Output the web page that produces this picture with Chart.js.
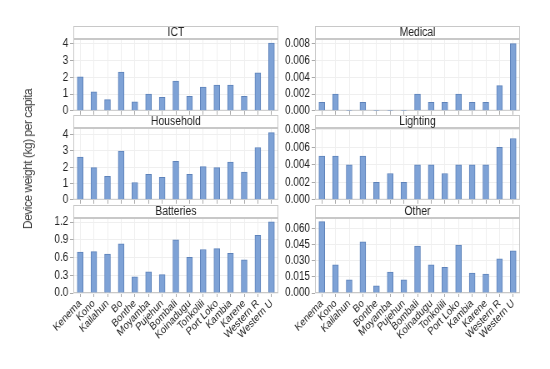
<!DOCTYPE html>
<html>
<head>
<meta charset="utf-8">
<script src="https://cdn.jsdelivr.net/npm/chart.js@4"></script>
<style>
  body { margin: 0; background: #fff; overflow: hidden; }
  #page { position: relative; width: 550px; height: 369px; overflow: hidden; }
  /* the figure is drawn 20% wider and squeezed back, which gives the narrow lettering of the original */
  #wrap { position: absolute; left: 0; top: 0; width: 660px; height: 369px; transform: scaleX(0.833333); transform-origin: 0 0; }
  .panel { position: absolute; }
  #ytitle {
    position: absolute; left: 28px; top: 159px; white-space: nowrap;
    transform: translate(-50%, -50%) rotate(-90deg);
    font: normal 12px 'Liberation Sans', Arial, sans-serif;
    letter-spacing: -0.5px;
    color: #444;
  }
</style>
</head>
<body>
<div id="page">
  <div id="wrap"></div>
  <div id="ytitle">Device weight (kg) per capita</div>
</div>
<script>
// ---- data ----
const districts = ['Kenema', 'Kono', 'Kailahun', 'Bo', 'Bonthe', 'Moyamba', 'Pujehun', 'Bombali',
  'Koinadugu', 'Tonkolili', 'Port Loko', 'Kambia', 'Karene', 'Western R', 'Western U'];

const ict       = [2.03, 1.13, 0.67, 2.31, 0.54, 0.99, 0.80, 1.77, 0.87, 1.41, 1.53, 1.53, 0.86, 2.27, 4.04];
const medical   = [0.001, 0.002, 0.00005, 0.001, 0.00005, 0.00005, 0.00005, 0.002, 0.001, 0.001, 0.002, 0.001, 0.001, 0.003, 0.008];
const household = [2.62, 1.98, 1.44, 3.00, 1.06, 1.56, 1.38, 2.37, 1.56, 2.04, 1.98, 2.31, 1.71, 3.21, 4.13];
const lighting  = [0.005, 0.005, 0.004, 0.005, 0.002, 0.003, 0.002, 0.004, 0.004, 0.003, 0.004, 0.004, 0.004, 0.006, 0.007];
const batteries = [0.69, 0.70, 0.656, 0.83, 0.275, 0.36, 0.31, 0.90, 0.605, 0.735, 0.75, 0.67, 0.56, 0.975, 1.205];
const other     = [0.0668, 0.0264, 0.0124, 0.048, 0.0068, 0.0196, 0.0124, 0.044, 0.0264, 0.024, 0.0448, 0.0187, 0.0177, 0.032, 0.0395];

const ictTicks       = [0, 1, 2, 3, 4];
const medicalTicks   = [0, 0.002, 0.004, 0.006, 0.008];
const householdTicks = [0, 1, 2, 3, 4];
const lightingTicks  = [0, 0.002, 0.004, 0.006, 0.008];
const batteriesTicks = [0, 0.3, 0.6, 0.9, 1.2];
const otherTicks     = [0, 0.015, 0.03, 0.045, 0.06];

// ---- layout ----
const FONT = "'Liberation Sans', Arial, sans-serif";
const HEADER = 13;

// box around header strip and plot area
const panelBox = {
  id: 'panelBox',
  beforeDraw(chart) {
    const { ctx, chartArea: a } = chart;
    ctx.save();
    ctx.fillStyle = '#fff';
    ctx.fillRect(a.left, a.top - HEADER, a.right - a.left, HEADER);
    ctx.strokeStyle = '#c8c8c8';
    ctx.lineWidth = 1;
    ctx.strokeRect(a.left + 0.5, a.top - HEADER + 0.5, a.right - a.left - 1, HEADER - 1);
    ctx.restore();
  },
  beforeDatasetsDraw(chart) {
    const { ctx, chartArea: a } = chart;
    ctx.save();
    ctx.strokeStyle = '#c8c8c8';
    ctx.lineWidth = 1;
    ctx.strokeRect(a.left + 0.5, a.top + 0.5, a.right - a.left - 1, a.bottom - a.top - 1);
    ctx.restore();
  }
};

function panel(o) {
  const c = document.createElement('canvas');
  c.className = 'panel';
  c.style.left = o.left + 'px';
  c.style.top = o.top + 'px';
  c.style.width = o.width + 'px';
  c.style.height = o.height + 'px';
  c.width = o.width; c.height = o.height;
  document.getElementById('wrap').appendChild(c);

  new Chart(c, {
    type: 'bar',
    data: {
      labels: districts,
      datasets: [{
        data: o.values,
        backgroundColor: '#7ea2d6',
        borderColor: '#5d82ba',
        borderWidth: 1,
        barThickness: 7
      }]
    },
    options: {
      responsive: false,
      animation: false,
      layout: { padding: { left: 0, right: 2, top: 0, bottom: 0 } },
      plugins: {
        legend: { display: false },
        tooltip: { enabled: false },
        title: {
          display: true, text: o.title, fullSize: false,
          color: '#222', padding: 0,
          font: { family: FONT, size: 12.5, weight: 'normal', lineHeight: 1.04 }
        }
      },
      scales: {
        x: {
          grid: { color: '#efefef', offset: false, tickLength: 4, tickColor: '#aaa' },
          border: { display: false },
          ticks: {
            display: o.bottom, autoSkip: false, maxRotation: 42, minRotation: 42,
            padding: 0, color: '#222', font: { family: FONT, size: 11 }
          },
          afterFit(s) { s.height = o.xh; }
        },
        y: {
          min: 0, max: o.max,
          grid: { color: '#efefef', tickLength: 4, tickColor: '#aaa' },
          border: { display: false },
          ticks: {
            padding: 2, color: '#222', font: { family: FONT, size: 12 },
            callback: v => v.toFixed(o.dec)
          },
          afterBuildTicks(s) { s.ticks = o.ticks.map(v => ({ value: v })); },
          afterFit(s) { s.width = o.yw; }
        }
      }
    },
    plugins: [panelBox]
  });
}

// coordinates are in the 660px-wide (unsqueezed) frame
const L = { left: 36, width: 300, yw: 52 };
const R = { left: 338, width: 288, yw: 40 };

panel({ ...L, top: 26, height: 94, xh: 4, bottom: false, title: 'ICT', values: ict, ticks: ictTicks, max: 4.28, dec: 0 });
panel({ ...R, top: 26, height: 94, xh: 4, bottom: false, title: 'Medical', values: medical, ticks: medicalTicks, max: 0.00855, dec: 3 });
panel({ ...L, top: 115, height: 94, xh: 4, bottom: false, title: 'Household', values: household, ticks: householdTicks, max: 4.41, dec: 0 });
panel({ ...R, top: 115, height: 94, xh: 4, bottom: false, title: 'Lighting', values: lighting, ticks: lightingTicks, max: 0.0082, dec: 3 });
panel({ ...L, top: 205, height: 164, xh: 76, bottom: true, title: 'Batteries', values: batteries, ticks: batteriesTicks, max: 1.268, dec: 1 });
panel({ ...R, top: 205, height: 164, xh: 76, bottom: true, title: 'Other', values: other, ticks: otherTicks, max: 0.0702, dec: 3 });
</script>
</body>
</html>
